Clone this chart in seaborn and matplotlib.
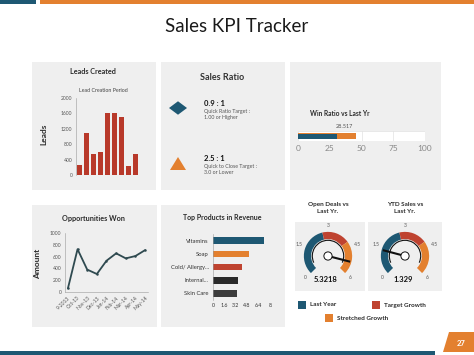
import numpy as np
import matplotlib
matplotlib.use("Agg")
import matplotlib.pyplot as plt
from matplotlib.patches import Rectangle, Wedge, Arc, Circle, Polygon, RegularPolygon
import seaborn as sns

# ---- data ----
lead_periods = ["P1", "P2", "P3", "P4", "P5", "P6", "P7", "P8", "P9"]
leads = [250, 1100, 540, 590, 1600, 1620, 1500, 240, 540]

opp_months = ["9-2013", "Oct-13", "Nov-13", "Dec-13", "Jan-14", "Feb-14", "Mar-14", "Apr-14", "May-14"]
opp_amount = [60, 725, 380, 305, 530, 655, 570, 610, 710]

products = ["Vitamins", "Soap", "Cold/ Allergy...", "Internal...", "Skin Care"]
revenue = [7.2, 5.0, 4.1, 3.5, 3.3]

win_last_year = 30.5
win_this_year = 45.5
win_label = "28.517"

gauge_ticks = [0, 1.5, 3, 4.5, 6]
gauge_bands = [2.7, 4.2, 6.0]          # band ends: last year / target / stretched
open_deals = 5.3218
ytd_sales = 1.329

TEAL = "#1e5873"
ORANGE = "#e3802f"
RED = "#bf4330"
BARRED = "#b8392a"
DARK = "#2b2b2b"
PANEL = "#efefef"
W, H = 474, 355

sns.set_style("white")
plt.rcParams["font.family"] = ["Lato", "DejaVu Sans"]

fig = plt.figure(figsize=(W / 100, H / 100), dpi=100)


def box(x0, y0, x1, y1):
    return [x0 / W, 1 - y1 / H, (x1 - x0) / W, (y1 - y0) / H]


def rect(x0, y0, x1, y1, color, z=0):
    fig.add_artist(Rectangle((x0 / W, 1 - y1 / H), (x1 - x0) / W, (y1 - y0) / H,
                             transform=fig.transFigure, color=color, zorder=z, lw=0))


def txt(x, y, s, **kw):
    fig.text(x / W, 1 - y / H, s, **kw)


# page decoration
rect(0, 0, 36, 4, TEAL)
rect(40, 0, 474, 4, ORANGE)
rect(0, 351, 435, 355, TEAL)
fig.add_artist(Polygon([(449 / W, 1 - 332 / H), (474 / W, 1 - 332 / H), (474 / W, 1 - 352 / H),
                        (443 / W, 1 - 352 / H)], closed=True, transform=fig.transFigure,
                       color=ORANGE, lw=0))
txt(461, 343, "27", color="white", fontsize=5.5, fontweight="bold", ha="center", va="center")
txt(237, 27, "Sales KPI Tracker", fontsize=13.5, ha="center", va="center", color="#1a1a1a")

# panels
rect(32, 62, 156, 190, PANEL)
rect(161, 62, 285, 190, PANEL)
rect(290, 62, 441, 190, PANEL)
rect(32, 205, 157, 327, PANEL)
rect(161, 205, 285, 327, PANEL)
rect(295, 222, 365, 291, PANEL)
rect(368, 222, 442, 291, PANEL)

tick_kw = dict(labelsize=3.6, length=1.5, width=0.4, colors="#555555", pad=1)

# ---- Leads Created ----
ax = fig.add_axes(box(76, 98, 139, 175))
ax.set_facecolor("none")
sns.barplot(x=lead_periods, y=leads, color=BARRED, width=0.74, linewidth=0, ax=ax, saturation=1)
ax.set_ylim(0, 2000)
ax.set_yticks([0, 400, 800, 1200, 1600, 2000])
ax.set_xticks([])
ax.tick_params(axis="y", **tick_kw)
sns.despine(ax=ax, bottom=True)
ax.spines["left"].set_color("#999999")
ax.spines["left"].set_linewidth(0.4)
txt(93, 72, "Leads Created", fontsize=5.2, fontweight="bold", ha="center", va="center", color=DARK)
txt(103, 90, "Lead Creation Period", fontsize=3.8, ha="center", va="center", color="#444444")
txt(44, 134, "Leads", fontsize=6, fontweight="bold", rotation=90, ha="center", va="center", color=DARK)

# ---- Sales Ratio ----
txt(222, 77, "Sales Ratio", fontsize=6.5, fontweight="bold", ha="center", va="center", color="#333333")
fig.add_artist(RegularPolygon((178 / W, 1 - 108 / H), 4, radius=9 / W, orientation=0,
                              transform=fig.transFigure, color=TEAL, lw=0))
fig.add_artist(Polygon([(170 / W, 1 - 170 / H), (186 / W, 1 - 170 / H), (178 / W, 1 - 157 / H)],
                       closed=True, transform=fig.transFigure, color=ORANGE, lw=0))
txt(204, 103, "0.9 : 1", fontsize=5.5, fontweight="bold", va="center", color="#111111")
txt(204, 111, "Quick Ratio Target :", fontsize=3.8, va="center", color="#555555")
txt(204, 118, "1.00 or Higher", fontsize=3.8, va="center", color="#555555")
txt(204, 158, "2.5 : 1", fontsize=5.5, fontweight="bold", va="center", color="#111111")
txt(204, 166, "Quick to Close Target :", fontsize=3.8, va="center", color="#555555")
txt(204, 173, "3.0 or Lower", fontsize=3.8, va="center", color="#555555")

# ---- Win Ratio vs Last Yr ----
ax = fig.add_axes(box(298, 131, 425, 141))
ax.set_facecolor("none")
ax.barh([0], [100], height=1.0, color="white", edgecolor="#dddddd", lw=0.4)
for v in [50, 75]:
    ax.axvline(v, color="#e2e2e2", lw=0.5)
sns.barplot(x=[win_this_year], y=["now"], color=ORANGE, width=0.6, linewidth=0, ax=ax,
            saturation=1, orient="h")
sns.barplot(x=[win_last_year], y=["now"], color=TEAL, width=0.5, linewidth=0, ax=ax,
            saturation=1, orient="h")
ax.set_xlim(0, 100)
ax.set_ylim(0.5, -0.5)
ax.set_yticks([])
ax.set_xticks([0, 25, 50, 75, 100])
ax.tick_params(axis="x", labelsize=6, colors="#888888", length=0, pad=3)
for s in ax.spines.values():
    s.set_visible(False)
ax.set_xlabel("")
ax.set_ylabel("")
txt(340, 113, "Win Ratio vs Last Yr", fontsize=4.8, fontweight="bold", ha="center", va="center", color=DARK)
txt(344, 127, win_label, fontsize=4, ha="center", va="center", color="#555555")

# ---- Opportunities Won ----
ax = fig.add_axes(box(65, 233, 148, 292))
ax.set_facecolor("none")
xi = np.arange(len(opp_months))
sns.lineplot(x=xi, y=opp_amount, color="#2f4a50", lw=1.3, marker="o", markersize=1.8,
             markeredgewidth=0, ax=ax)
ax.set_xlim(-0.3, len(opp_months) - 0.7)
ax.set_ylim(0, 1000)
ax.set_yticks([0, 200, 400, 600, 800, 1000])
ax.set_xticks(xi)
ax.set_xticklabels(opp_months, rotation=45, ha="right", rotation_mode="anchor")
ax.tick_params(**tick_kw)
sns.despine(ax=ax)
for s in ["left", "bottom"]:
    ax.spines[s].set_color("#999999")
    ax.spines[s].set_linewidth(0.4)
txt(93, 219, "Opportunities Won", fontsize=5.2, fontweight="bold", ha="center", va="center", color=DARK)
txt(38, 264, "Amount", fontsize=6, fontweight="bold", rotation=90, ha="center", va="center", color=DARK)

# ---- Top Products in Revenue ----
ax = fig.add_axes(box(213, 234, 270, 300))
ax.set_facecolor("none")
sns.barplot(x=revenue, y=products, hue=products, palette=[TEAL, ORANGE, RED, "#2a2a2a", "#3c3c3c"],
            legend=False, width=0.5, linewidth=0, ax=ax, saturation=1, orient="h")
ax.set_xlim(0, 8)
ax.set_xticks([0, 1.6, 3.2, 4.8, 6.4, 8])
ax.set_xticklabels(["0", "1.6", "3.2", "4.8", "6.4", "8"])
ax.tick_params(axis="y", labelsize=4.2, length=1.5, width=0.4, colors="#333333", pad=1.5)
ax.tick_params(axis="x", labelsize=3.8, length=0, colors="#333333", pad=2)
sns.despine(ax=ax, bottom=True)
ax.spines["left"].set_color("#999999")
ax.spines["left"].set_linewidth(0.4)
txt(222, 218, "Top Products in Revenue", fontsize=5.0, fontweight="bold", ha="center", va="center", color=DARK)


# ---- Gauges ----
def ang(v):
    return 225 - 45 * v


def gauge(cx, cy, value, label, title):
    ax = fig.add_axes(box(cx - 35, cy - 35, cx + 35, cy + 35))
    ax.set_xlim(-1.45, 1.45)
    ax.set_ylim(-1.45, 1.45)
    ax.set_aspect("equal")
    ax.axis("off")
    start = 0
    for end, c in zip(gauge_bands, [TEAL, RED, ORANGE]):
        ax.add_patch(Wedge((0, 0), 1.0, ang(end), ang(start), width=0.3, color=c, lw=0))
        start = end
    ax.add_patch(Arc((0, 0), 1.3, 1.3, theta1=-25, theta2=205, color="#111111", lw=0.8))
    a = np.radians(ang(value))
    ax.plot([0, 0.95 * np.cos(a)], [0, 0.95 * np.sin(a)], color="#111111", lw=1.5, solid_capstyle="butt")
    ax.add_patch(Circle((0, 0), 0.17, fc="white", ec="#111111", lw=0.7, zorder=5))
    for t in gauge_ticks:
        ta = np.radians(ang(t))
        ax.text(1.3 * np.cos(ta), 1.25 * np.sin(ta), f"{t:g}", fontsize=3.6, color="#555555",
                ha="center", va="center")
    txt(cx - 2, 280, label, fontsize=5.5, fontweight="bold", ha="center", va="center", color="#111111")
    txt(cx, 208, title, fontsize=4.6, fontweight="bold", ha="center", va="center",
        color=DARK, linespacing=1.3)


gauge(328, 256, open_deals, f"{open_deals:g}", "Open Deals vs\nLast Yr.")
gauge(405, 256, ytd_sales, f"{ytd_sales:g}", "YTD Sales vs\nLast Yr.")

# gauge legend
for (x, y, c, s) in [(302, 305, TEAL, "Last Year"), (376, 305, RED, "Target Growth"),
                     (329, 318, ORANGE, "Stretched Growth")]:
    rect(x - 4, y - 4, x + 4, y + 4, c)
    txt(x + 8, y, s, fontsize=4.6, fontweight="bold", va="center", color=DARK)

fig.savefig("out.png", dpi=100)
